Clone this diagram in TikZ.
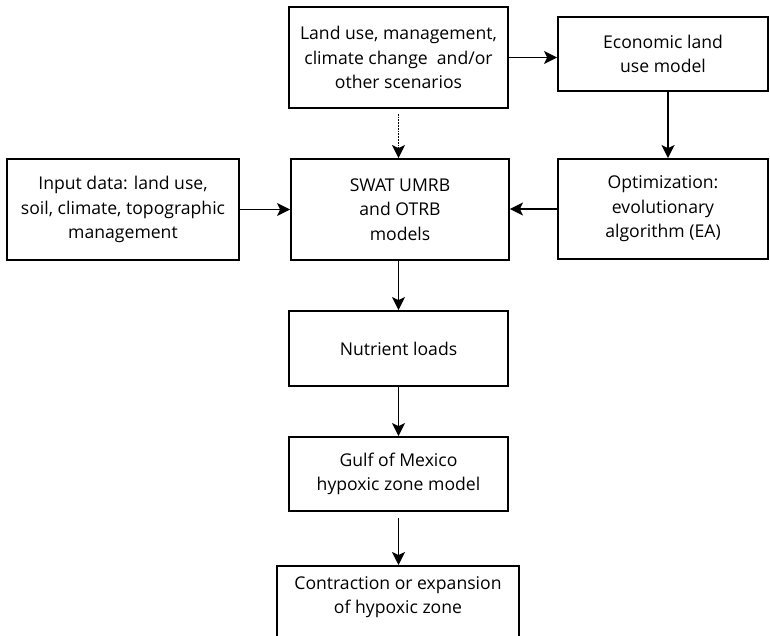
\documentclass[tikz,border=0pt]{standalone}
\usepackage{fontspec}
\setmainfont{Open Sans}
\usetikzlibrary{arrows.meta,positioning}
\tikzset{
  txt/.style={font=\fontsize{17.6}{24.5}\selectfont},
  box/.style={draw, line width=1.8pt, align=center, inner sep=2pt, txt},
  arr/.style={line width=1.8pt, -{Stealth[length=13pt,width=13pt,inset=3pt]}},
}
\begin{document}
\begin{tikzpicture}[x=1pt,y=-1pt]
\useasboundingbox (0,0) rectangle (770,636);
\node[box, minimum width=219, minimum height=101] (land) at (398.5,57.5)
  {Land use, management,\\climate change\ \ and/or\\other scenarios};
\node[box, minimum width=210, minimum height=74] (eco) at (663,54)
  {Economic land\\use model};
\node[box, minimum width=210, minimum height=100] (opt) at (663,209)
  {Optimization:\\evolutionary\\algorithm (EA)};
\node[box, minimum width=232, minimum height=101] (inp) at (123,209.5)
  {Input data: land use,\\soil, climate, topographic\\management};
\node[box, minimum width=218, minimum height=101] (swat) at (400,209.5)
  {SWAT UMRB\\and OTRB\\models};
\node[box, minimum width=219, minimum height=75] (nut) at (398.5,348.5)
  {Nutrient loads};
\node[box, minimum width=219, minimum height=74] (gulf) at (398.5,474)
  {Gulf of Mexico\\hypoxic zone model};
\node[box, minimum width=242, minimum height=90, anchor=north] (con) at (398,565) {};
\node[txt, align=center, anchor=north] (contxt) at (398,573)
  {Contraction or expansion\\of hypoxic zone};
\draw[arr] (land.east) -- (land.east -| eco.west);
\draw[arr, densely dotted, shorten <=5pt] (land.south) -- (land.south |- swat.north);
\draw[arr] ([xshift=5pt]eco.south) -- ([xshift=5pt]opt.north);
\draw[arr] (opt.west) -- (opt.west -| swat.east);
\draw[arr] (inp.east) -- (inp.east -| swat.west);
\draw[arr] (nut.north |- swat.south) -- (nut.north);
\draw[arr] (nut.south) -- (gulf.north);
\draw[arr, shorten <=6pt] (gulf.south) -- (gulf.south |- con.north);
\end{tikzpicture}
\end{document}
